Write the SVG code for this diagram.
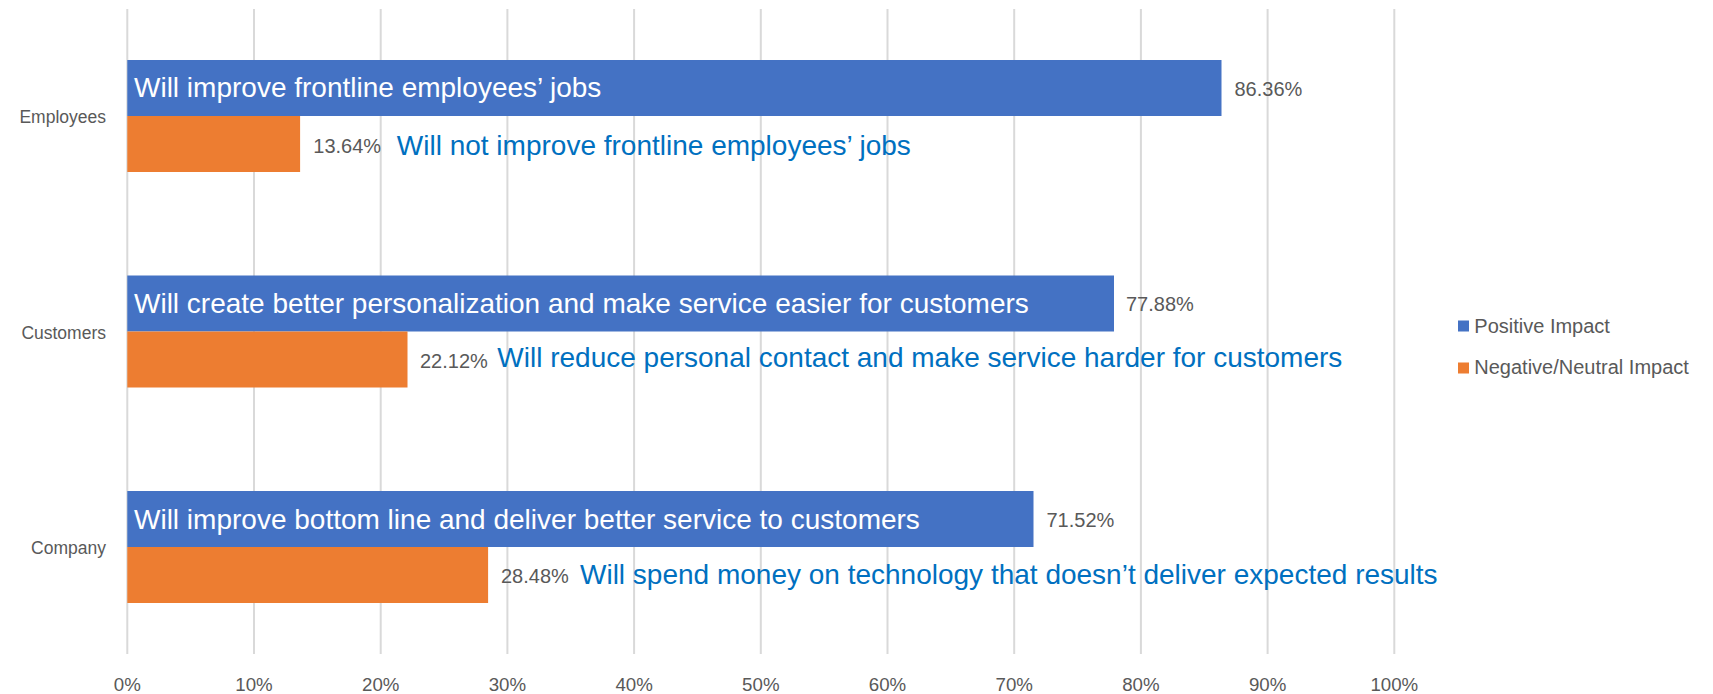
<svg xmlns="http://www.w3.org/2000/svg" width="1713" height="694" viewBox="0 0 1713 694">
  <style>
    .grid { stroke: #d9d9d9; stroke-width: 2; }
    .pos { fill: #4472C4; }
    .neg { fill: #ED7D31; }
    .lbl { font-family: "Liberation Sans", Arial, sans-serif; fill: #595959; }
    .pct { font-size: 20px; }
    .cat { font-size: 17.5px; text-anchor: end; }
    .axis { font-size: 18.7px; text-anchor: middle; }
    .inbar { font-family: "Liberation Sans", Arial, sans-serif; font-size: 28px; fill: #ffffff; }
    .note { font-family: "Liberation Sans", Arial, sans-serif; font-size: 28px; fill: #0070C0; }
    .leg { font-family: "Liberation Sans", Arial, sans-serif; font-size: 20px; fill: #595959; }
  </style>
  <rect width="1713" height="694" fill="#ffffff"/>

  <g id="gridlines">
    <line class="grid" x1="127.3" y1="9" x2="127.3" y2="654"/>
    <line class="grid" x1="254" y1="9" x2="254" y2="654"/>
    <line class="grid" x1="380.7" y1="9" x2="380.7" y2="654"/>
    <line class="grid" x1="507.4" y1="9" x2="507.4" y2="654"/>
    <line class="grid" x1="634.1" y1="9" x2="634.1" y2="654"/>
    <line class="grid" x1="760.8" y1="9" x2="760.8" y2="654"/>
    <line class="grid" x1="887.5" y1="9" x2="887.5" y2="654"/>
    <line class="grid" x1="1014.2" y1="9" x2="1014.2" y2="654"/>
    <line class="grid" x1="1140.9" y1="9" x2="1140.9" y2="654"/>
    <line class="grid" x1="1267.6" y1="9" x2="1267.6" y2="654"/>
    <line class="grid" x1="1394.3" y1="9" x2="1394.3" y2="654"/>
  </g>

  <g id="x-axis-labels" class="lbl axis">
    <text x="127.3" y="690.5">0%</text>
    <text x="254" y="690.5">10%</text>
    <text x="380.7" y="690.5">20%</text>
    <text x="507.4" y="690.5">30%</text>
    <text x="634.1" y="690.5">40%</text>
    <text x="760.8" y="690.5">50%</text>
    <text x="887.5" y="690.5">60%</text>
    <text x="1014.2" y="690.5">70%</text>
    <text x="1140.9" y="690.5">80%</text>
    <text x="1267.6" y="690.5">90%</text>
    <text x="1394.3" y="690.5">100%</text>
  </g>

  <g id="employees">
    <text class="lbl cat" x="106" y="123">Employees</text>
    <rect class="pos" x="127.3" y="60" width="1094.2" height="56"/>
    <rect class="neg" x="127.3" y="116" width="172.8" height="56"/>
    <text class="inbar" x="134" y="97">Will improve frontline employees’ jobs</text>
    <text class="lbl pct" x="1234.5" y="95.5">86.36%</text>
    <text class="lbl pct" x="313.3" y="152.5">13.64%</text>
    <text class="note" x="396.8" y="155">Will not improve frontline employees’ jobs</text>
  </g>

  <g id="customers">
    <text class="lbl cat" x="106" y="338.5">Customers</text>
    <rect class="pos" x="127.3" y="275.5" width="986.7" height="56"/>
    <rect class="neg" x="127.3" y="331.5" width="280.2" height="56"/>
    <text class="inbar" x="134" y="313">Will create better personalization and make service easier for customers</text>
    <text class="lbl pct" x="1126" y="311">77.88%</text>
    <text class="lbl pct" x="420" y="367.5">22.12%</text>
    <text class="note" x="497.3" y="367">Will reduce personal contact and make service harder for customers</text>
  </g>

  <g id="company">
    <text class="lbl cat" x="106" y="554">Company</text>
    <rect class="pos" x="127.3" y="491" width="906.2" height="56"/>
    <rect class="neg" x="127.3" y="547" width="360.8" height="56"/>
    <text class="inbar" x="134" y="528.5">Will improve bottom line and deliver better service to customers</text>
    <text class="lbl pct" x="1046.5" y="526.5">71.52%</text>
    <text class="lbl pct" x="501" y="583">28.48%</text>
    <text class="note" x="580" y="584">Will spend money on technology that doesn’t deliver expected results</text>
  </g>

  <g id="legend">
    <g id="legend-positive">
      <rect class="pos" x="1458" y="320.5" width="11" height="11"/>
      <text class="leg" x="1474.3" y="332.7">Positive Impact</text>
    </g>
    <g id="legend-negative">
      <rect class="neg" x="1458" y="362.5" width="11" height="11"/>
      <text class="leg" x="1474.3" y="373.5">Negative/Neutral Impact</text>
    </g>
  </g>
</svg>
